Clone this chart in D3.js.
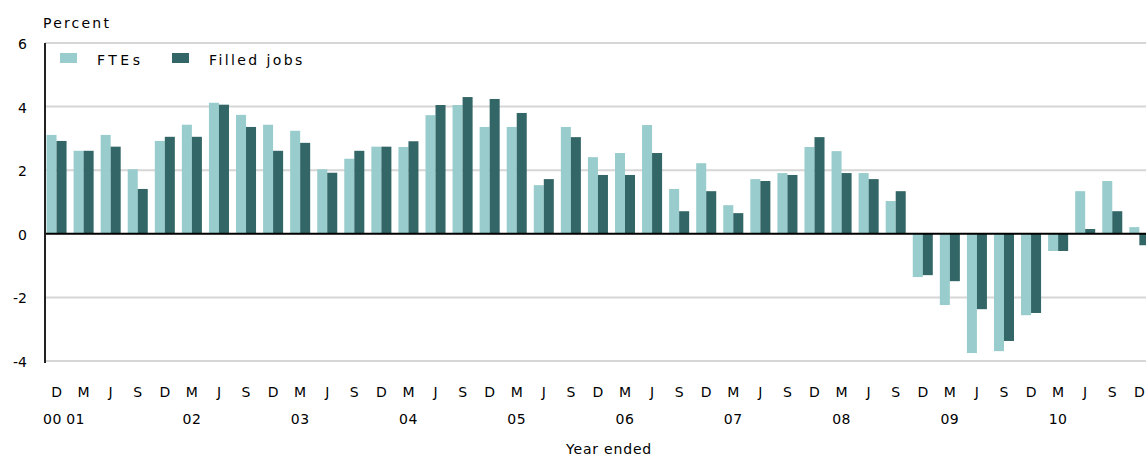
<!DOCTYPE html>
<html>
<head>
<meta charset="utf-8">
<script src="https://cdn.jsdelivr.net/npm/d3@7"></script>
<style>
  html, body { margin: 0; padding: 0; background: #fff; }
  svg { display: block; }
  text { font-family: "DejaVu Sans", Verdana, sans-serif; font-size: 14px; fill: #000; }
</style>
</head>
<body>
<svg id="chart" width="1146" height="456"></svg>
<script>
// Quarter labels (D00 .. D10)
const quarters = ["D","M","J","S","D","M","J","S","D","M","J","S","D","M","J","S","D","M","J","S","D","M","J","S","D","M","J","S","D","M","J","S","D","M","J","S","D","M","J","S","D"];
// Year labels and the quarter index each sits under
const yearLabels = ["00","01","02","03","04","05","06","07","08","09","10"];
const yearIndex  = [0, 1, 5, 9, 13, 17, 21, 25, 29, 33, 37];
const yearShift  = [-4, -8, 0, 0, 0, 0, 0, 0, 0, 0, 0];
// Series values (annual percent change)
const ftes = [3.11, 2.61, 3.11, 2.03, 2.92, 3.43, 4.12, 3.74, 3.43, 3.24, 2.03, 2.36, 2.74, 2.73, 3.73, 4.05, 3.36, 3.36, 1.53, 3.36, 2.41, 2.54, 3.42, 1.41, 2.22, 0.90, 1.72, 1.91, 2.73, 2.60, 1.91, 1.03, -1.36, -2.24, -3.75, -3.69, -2.56, -0.54, 1.34, 1.66, 0.21];
const filledJobs = [2.92, 2.61, 2.74, 1.41, 3.05, 3.05, 4.06, 3.36, 2.61, 2.86, 1.92, 2.61, 2.74, 2.91, 4.05, 4.30, 4.24, 3.80, 1.72, 3.04, 1.85, 1.85, 2.54, 0.71, 1.34, 0.65, 1.66, 1.85, 3.04, 1.91, 1.72, 1.34, -1.30, -1.49, -2.37, -3.37, -2.49, -0.54, 0.15, 0.71, -0.36];
const yTicks = [-4, -2, 0, 2, 4, 6];
const seriesNames = ["FTEs", "Filled jobs"];
const colors = ["#99cccc", "#336666"];

const svg = d3.select("#chart");
const idx = d3.range(quarters.length);

const x = d3.scaleBand().domain(idx).range([43, 43 + 41 * 27.07]).paddingInner(0.26).paddingOuter(0.13);
const xs = d3.scaleBand().domain([0, 1]).range([0, x.bandwidth()]);
const y = d3.scaleLinear().domain([-4, 6]).range([361, 43]);

// gridlines
svg.append("g").selectAll("line").data(yTicks.filter(d => d !== 0)).join("line")
  .attr("x1", 45).attr("x2", 1146)
  .attr("y1", d => y(d)).attr("y2", d => y(d))
  .attr("stroke", "#d6d6d6").attr("stroke-width", 2);

// bars
const series = [ftes, filledJobs];
series.forEach((vals, s) => {
  svg.append("g").selectAll("rect").data(vals).join("rect")
    .attr("x", (d, i) => x(i) + xs(s))
    .attr("width", xs.bandwidth())
    .attr("y", d => y(Math.max(0, d)))
    .attr("height", d => Math.abs(y(d) - y(0)))
    .attr("fill", colors[s]);
});

// zero line & y-axis line
svg.append("line").attr("x1", 45).attr("x2", 1146).attr("y1", y(0)).attr("y2", y(0))
  .attr("stroke", "#000").attr("stroke-width", 2);
svg.append("line").attr("x1", 45).attr("x2", 45).attr("y1", y(6)).attr("y2", y(-4) + 2)
  .attr("stroke", "#222").attr("stroke-width", 2);

// y tick labels
svg.append("g").selectAll("text").data(yTicks).join("text")
  .attr("x", 27).attr("y", d => y(d) + 1)
  .attr("dy", "0.35em").attr("text-anchor", "end")
  .text(d => d);

// y axis title
svg.append("text").attr("x", 43).attr("y", 28).style("letter-spacing", "2.2px").text("Percent");

// quarter labels
svg.append("g").selectAll("text").data(quarters).join("text")
  .attr("x", (d, i) => x(i) + x.bandwidth() / 2)
  .attr("y", 397).attr("text-anchor", "middle")
  .text(d => d);

// year labels
svg.append("g").selectAll("text").data(yearLabels).join("text")
  .attr("x", (d, i) => x(yearIndex[i]) + x.bandwidth() / 2 + yearShift[i])
  .attr("y", 424).attr("text-anchor", "middle").style("letter-spacing", "0.5px")
  .text(d => d);

// x axis title
svg.append("text").attr("x", 609).attr("y", 454).attr("text-anchor", "middle")
  .style("letter-spacing", "0.8px").text("Year ended");

// legend
const legX = [60, 172];
const legTextX = [97, 209];
const legSpacing = ["3.5px", "2.4px"];
seriesNames.forEach((n, i) => {
  svg.append("rect").attr("x", legX[i]).attr("y", 53).attr("width", 17).attr("height", 10).attr("fill", colors[i]);
  svg.append("text").attr("x", legTextX[i]).attr("y", 65).style("letter-spacing", legSpacing[i]).text(n);
});
</script>
</body>
</html>
